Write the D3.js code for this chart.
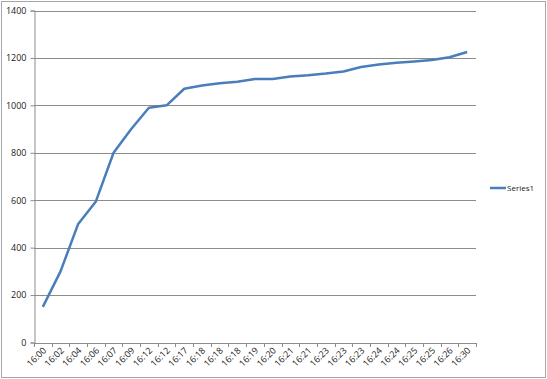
<!DOCTYPE html>
<html>
<head>
<meta charset="utf-8">
<script src="https://cdn.jsdelivr.net/npm/d3@7"></script>
<style>
  body { margin: 0; background: #fff; }
  svg text { font-family: "Open Sans", "DejaVu Sans", sans-serif; fill: #222; }
</style>
</head>
<body>
<svg></svg>
<script>
// Chart data
const times = ['16:00','16:02','16:04','16:06','16:07','16:09','16:12','16:12','16:17','16:18',
               '16:18','16:18','16:19','16:20','16:21','16:21','16:23','16:23','16:23','16:24',
               '16:24','16:25','16:25','16:26','16:30']
const series1 = [150, 300, 500, 595, 800, 900, 990, 1000, 1070, 1084,
                 1093, 1100, 1111, 1111, 1122, 1127, 1134, 1143, 1162, 1172,
                 1180, 1185, 1191, 1203, 1225]
const yTicks = [0, 200, 400, 600, 800, 1000, 1200, 1400]
const seriesName = 'Series1'

const width = 547
const height = 379
const plotLeft = 34, plotRight = 476, plotTop = 10.5, plotBottom = 342.5

const svg = d3.select('svg')
                .attr('width', width)
                .attr('height', height)

// outer chart border
svg.append('rect')
    .attr('x', 1.5).attr('y', 1.5)
    .attr('width', width - 3).attr('height', height - 3)
    .attr('fill', 'none')
    .attr('stroke', '#a6a6a6')
    .attr('stroke-width', 1)

let xScale = d3.scaleBand()
                .domain(d3.range(times.length))
                .range([plotLeft, plotRight])

let yScale = d3.scaleLinear()
                .domain([0, 1400])
                .range([plotBottom, plotTop])

// gridlines
svg.append('g')
    .selectAll('line')
    .data(yTicks.filter(d => d > 0))
    .enter()
    .append('line')
    .attr('x1', plotLeft).attr('x2', plotRight)
    .attr('y1', d => Math.round(yScale(d)) + 0.5)
    .attr('y2', d => Math.round(yScale(d)) + 0.5)
    .attr('stroke', '#8c8c8c')
    .attr('stroke-width', 1)

// y axis
let yAxis = d3.axisLeft(yScale).tickValues(yTicks).tickFormat(d3.format('d')).tickSize(4).tickPadding(4)
let gy = svg.append('g')
    .attr('transform', 'translate(' + (plotLeft + 0.5) + ',0)')
    .call(yAxis)
gy.select('.domain').attr('stroke', '#8c8c8c')
gy.selectAll('.tick line').attr('stroke', '#8c8c8c')
gy.selectAll('text').style('font-size', '9px')

// x axis
let xAxis = d3.axisBottom(xScale).tickFormat(i => times[i]).tickSize(0).tickPadding(0)
let gx = svg.append('g')
    .attr('transform', 'translate(0,' + (plotBottom + 0.5) + ')')
    .call(xAxis)
gx.select('.domain').attr('stroke', '#8c8c8c')
gx.selectAll('.tick text')
    .style('font-size', '9px')
    .attr('text-anchor', 'end')
    .attr('dy', 0)
    .attr('transform', 'translate(4,8) rotate(-45)')

// category tick marks at band boundaries
svg.append('g')
    .selectAll('line')
    .data(d3.range(times.length + 1))
    .enter()
    .append('line')
    .attr('x1', i => Math.round(plotLeft + i * xScale.step()) + 0.5)
    .attr('x2', i => Math.round(plotLeft + i * xScale.step()) + 0.5)
    .attr('y1', plotBottom + 0.5)
    .attr('y2', plotBottom + 4.5)
    .attr('stroke', '#8c8c8c')

// series line
let line = d3.line()
    .x((d, i) => xScale(i) + xScale.bandwidth() / 2)
    .y(d => yScale(d))

svg.append('path')
    .datum(series1)
    .attr('d', line)
    .attr('fill', 'none')
    .attr('stroke', '#4a7ebb')
    .attr('stroke-width', 2.5)
    .attr('stroke-linejoin', 'round')

// legend
let legend = svg.append('g').attr('transform', 'translate(490,188)')
legend.append('line')
    .attr('x1', 0).attr('x2', 16)
    .attr('stroke', '#4a7ebb')
    .attr('stroke-width', 2.5)
legend.append('text')
    .attr('x', 17).attr('y', 3)
    .style('font-size', '8px')
    .text(seriesName)
</script>
</body>
</html>
